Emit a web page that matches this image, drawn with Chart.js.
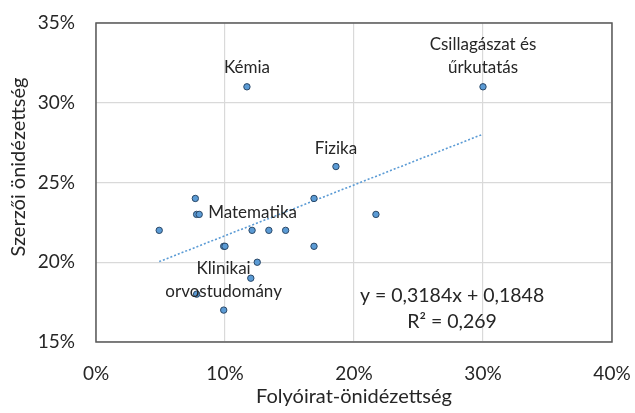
<!DOCTYPE html>
<html>
<head>
<meta charset="utf-8">
<script src="https://cdn.jsdelivr.net/npm/chart.js@4.4.1/dist/chart.umd.min.js"></script>
<style>
  html, body { margin: 0; padding: 0; background: #fff; }
  #wrap { width: 635px; height: 413px; }
</style>
</head>
<body>
<div id="wrap"><canvas id="chart"></canvas></div>
<script>
// folyóirat-önidézettség (x, %) és szerzői önidézettség (y, %)
var journalSelf = [11.7, 18.6, 30.0, 7.7, 16.9, 7.8, 8.0, 21.7, 4.9, 12.1, 13.4, 14.7, 9.9, 10.0, 16.9, 12.5, 12.0, 7.8, 9.9];
var authorSelf  = [31,   26,   31,   24,  24,   23,  23,  23,   22,  22,   22,   22,   21,  21,   21,   20,   19,   18,  17];
var pointNames  = ['Kémia', 'Fizika', 'Csillagászat és\nűrkutatás', '', '', '', 'Matematika', '', '', '', '', '', '', '', '', '', '', 'Klinikai\norvostudomány', ''];

// lineáris trendvonal
var trendX = [4.9, 30.0];
var trendY = [20.04, 28.03];
var equation = ['y = 0,3184x + 0,1848', 'R² = 0,269'];

var xTicks = [0, 10, 20, 30, 40];
var yTicks = [15, 20, 25, 30, 35];

var FONT = 'Lato, "Open Sans", sans-serif';
var TXT = '#262626';

// label placement relative to its point (px)
var labelPos = {
    0: { dx: 0, dy: -19, align: 'center' },
    1: { dx: 0, dy: -18, align: 'center' },
    2: { dx: 0, dy: -42, align: 'center', lh: 23 },
    6: { dx: 9, dy: -2, align: 'left' },
    17: { dx: 27, dy: -26, align: 'center', lh: 23 }
};

var scatter = [];
for (var i = 0; i < journalSelf.length; i++) scatter.push({ x: journalSelf[i], y: authorSelf[i] });
var trend = [];
for (var j = 0; j < trendX.length; j++) trend.push({ x: trendX[j], y: trendY[j] });

var decor = {
    id: 'decor',
    beforeDatasetsDraw: function (chart) {
        var ctx = chart.ctx, a = chart.chartArea;
        ctx.save();
        ctx.strokeStyle = '#595959';
        ctx.lineWidth = 1.5;
        ctx.strokeRect(a.left, a.top, a.right - a.left, a.bottom - a.top);
        ctx.restore();
    },
    afterDatasetsDraw: function (chart) {
        var ctx = chart.ctx, xs = chart.scales.x, ys = chart.scales.y;
        ctx.save();
        ctx.fillStyle = TXT;
        ctx.textBaseline = 'middle';
        ctx.font = '17px ' + FONT;
        Object.keys(labelPos).forEach(function (k) {
            var p = labelPos[k];
            var lines = pointNames[k].split('\n');
            var px = xs.getPixelForValue(journalSelf[k]) + p.dx;
            var py = ys.getPixelForValue(authorSelf[k]) + p.dy;
            ctx.textAlign = p.align;
            lines.forEach(function (t, n) { ctx.fillText(t, px, py + n * (p.lh || 0)); });
        });
        // equation
        ctx.font = '19.5px ' + FONT;
        ctx.textAlign = 'center';
        var ex = xs.getPixelForValue(27.6), ey = ys.getPixelForValue(17.9);
        ctx.fillText(equation[0], ex, ey);
        ctx.fillText(equation[1], ex, ey + 26);
        // y axis title
        ctx.font = '20px ' + FONT;
        ctx.translate(19, 167);
        ctx.rotate(-Math.PI / 2);
        ctx.fillText('Szerzői önidézettség', 0, 0);
        ctx.restore();
    }
};

new Chart(document.getElementById('chart'), {
    type: 'scatter',
    data: {
        datasets: [{
            data: scatter,
            backgroundColor: '#5b9bd5',
            borderColor: '#2a4766',
            borderWidth: 1,
            pointRadius: 3.2,
            order: 1
        }, {
            type: 'line',
            data: trend,
            borderColor: '#5b9bd5',
            borderWidth: 1.6,
            borderDash: [2, 2],
            pointRadius: 0,
            fill: false,
            order: 2
        }]
    },
    options: {
        responsive: true,
        maintainAspectRatio: false,
        animation: false,
        layout: { padding: { top: 23, right: 23, left: 0, bottom: 0 } },
        plugins: { legend: { display: false }, tooltip: { enabled: false } },
        scales: {
            x: {
                type: 'linear', min: 0, max: 40,
                afterBuildTicks: function (s) { s.ticks = xTicks.map(function (v) { return { value: v }; }); },
                afterFit: function (s) { s.height = 71; s.paddingLeft = 0; s.paddingRight = 0; },
                grid: { color: '#d9d9d9', lineWidth: 1.2, drawTicks: false },
                border: { display: false },
                ticks: { color: TXT, font: { family: FONT, size: 19 }, padding: 20, callback: function (v) { return v + '%'; } },
                title: { display: true, text: 'Folyóirat-önidézettség', color: TXT, font: { family: FONT, size: 20 }, padding: { top: 4 } }
            },
            y: {
                type: 'linear', min: 15, max: 35,
                afterBuildTicks: function (s) { s.ticks = yTicks.map(function (v) { return { value: v }; }); },
                afterFit: function (s) { s.width = 96; s.paddingTop = 0; s.paddingBottom = 0; },
                grid: { color: '#d9d9d9', lineWidth: 1.2, drawTicks: false },
                border: { display: false },
                ticks: { color: TXT, font: { family: FONT, size: 19 }, padding: 21, callback: function (v) { return v + '%'; } }
            }
        }
    },
    plugins: [decor]
});
</script>
</body>
</html>
